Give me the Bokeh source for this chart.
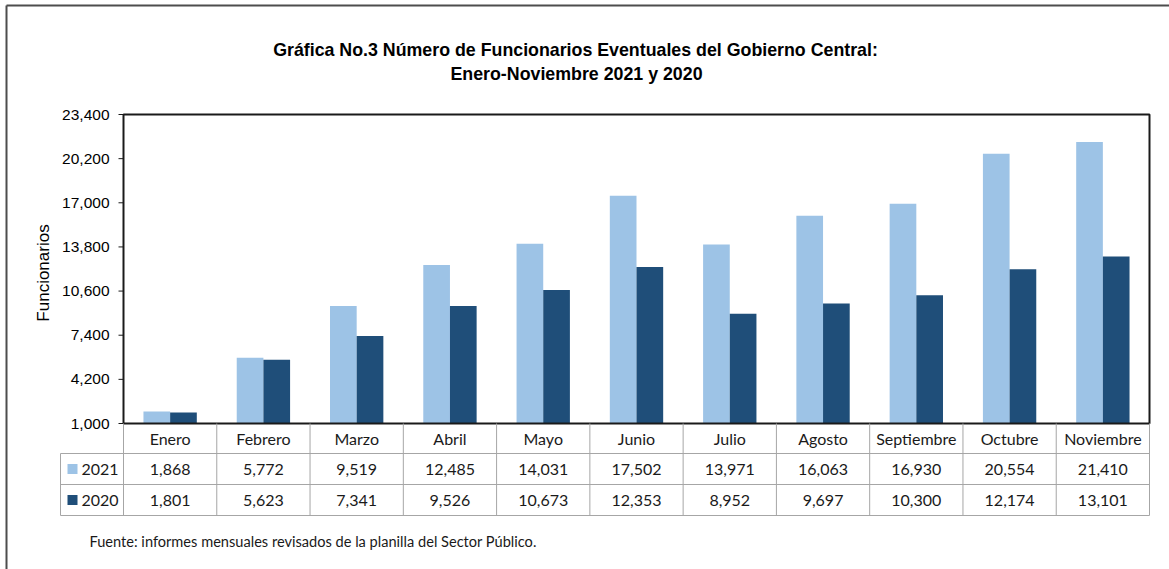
import math
from bokeh.plotting import figure
from bokeh.models import Range1d, ColumnDataSource
from bokeh.transform import dodge
from bokeh.core.properties import value
from bokeh.embed import file_html
from bokeh.resources import INLINE

# ---------------- data ----------------
months = ["Enero", "Febrero", "Marzo", "Abril", "Mayo", "Junio", "Julio",
          "Agosto", "Septiembre", "Octubre", "Noviembre"]
v2021 = [1868, 5772, 9519, 12485, 14031, 17502, 13971, 16063, 16930, 20554, 21410]
v2020 = [1801, 5623, 7341, 9526, 10673, 12353, 8952, 9697, 10300, 12174, 13101]
series_names = ["2021", "2020"]
y_ticks = [1000, 4200, 7400, 10600, 13800, 17000, 20200, 23400]
title_lines = ["Gráfica No.3 Número de Funcionarios Eventuales del Gobierno Central:",
               "Enero-Noviembre 2021 y 2020"]
y_label = "Funcionarios"
source_note = "Fuente: informes mensuales revisados de la planilla del Sector Público."

# ---------------- style / layout (page pixels) ----------------
C_LIGHT = "#9DC3E6"
C_DARK = "#1F4E79"
C_GRID = "#A6A6A6"
C_TXT = "#1a1a1a"
W, H = 1169, 569
FRAME_L, FRAME_R, FRAME_T, FRAME_B = 123, 1149, 114, 423
Y0, Y1 = y_ticks[0], y_ticks[-1]
N = len(months)
U = (FRAME_R - FRAME_L) / N


def xcat(px):
    return (px - FRAME_L) / U


def yv(py):
    return Y0 + (FRAME_B - py) / (FRAME_B - FRAME_T) * (Y1 - Y0)


p = figure(width=W, height=H, x_range=Range1d(xcat(0), xcat(W)),
           y_range=Range1d(yv(H), yv(0)), output_backend="svg", toolbar_location=None,
           x_axis_location=None, y_axis_location=None,
           min_border_left=0, min_border_right=0, min_border_top=0, min_border_bottom=0)
p.extra_y_ranges = {"px": Range1d(H, 0)}
p.extra_x_ranges = {"px": Range1d(0, W)}
p.grid.visible = False
p.outline_line_color = None
p.background_fill_color = "white"
p.border_fill_color = "white"

xc = [i + 0.5 for i in range(N)]
src = ColumnDataSource(dict(month=months, xc=xc, v2021=v2021, v2020=v2020))

# ---------------- bars ----------------
bw = 0.286
p.vbar(x=dodge("xc", -bw / 2), top="v2021", bottom=Y0, width=bw,
       fill_color=C_LIGHT, line_color=None, source=src)
p.vbar(x=dodge("xc", bw / 2), top="v2020", bottom=Y0, width=bw,
       fill_color=C_DARK, line_color=None, source=src)

# plot frame
p.quad(left=[0], right=[N], bottom=[Y0], top=[Y1], fill_color=None,
       line_color=C_TXT, line_width=2)

# y axis ticks + labels (through the value scale)
tick_x0 = xcat(FRAME_L - 5)
p.segment(x0=[tick_x0] * len(y_ticks), y0=y_ticks, x1=[0] * len(y_ticks), y1=y_ticks,
          line_color=C_TXT, line_width=1)
p.text(x=[xcat(FRAME_L - 14)] * len(y_ticks), y=y_ticks, text=[f"{t:,}" for t in y_ticks],
       text_align="right", text_baseline="middle", text_font=value("Liberation Sans"),
       text_font_size="15.5px", text_color="#000000")
p.text(x=[43], y=[(FRAME_T + FRAME_B) / 2 + 4], text=[y_label], angle=math.pi / 2,
       text_align="center", text_baseline="middle", text_font=value("Liberation Sans"),
       text_font_size="17px", text_color="#000000",
       x_range_name="px", y_range_name="px")

# ---------------- title ----------------
p.text(x=[575, 576], y=[49, 73], text=title_lines, text_align="center",
       text_baseline="middle", text_font=value("Liberation Sans"), text_font_style="bold",
       text_font_size="17.8px", text_color="#000000", x_range_name="px", y_range_name="px")

# ---------------- data table ----------------
row_lines = [453, 484, 515]
leg_x = xcat(60)
p.segment(x0=[leg_x] * 3, y0=row_lines, x1=[N] * 3, y1=row_lines,
          line_color=C_GRID, line_width=1, y_range_name="px")
p.segment(x0=list(range(N + 1)), y0=[FRAME_B] * (N + 1), x1=list(range(N + 1)),
          y1=[row_lines[-1]] * (N + 1), line_color=C_GRID, line_width=1, y_range_name="px")
p.segment(x0=[leg_x], y0=[row_lines[0]], x1=[leg_x], y1=[row_lines[-1]],
          line_color=C_GRID, line_width=1, y_range_name="px")

hdr_y = (FRAME_B + row_lines[0]) / 2
r1_y = (row_lines[0] + row_lines[1]) / 2
r2_y = (row_lines[1] + row_lines[2]) / 2
tfont = value("Lato")
p.text(x=xc, y=[hdr_y] * N, text=months, text_align="center", text_baseline="middle",
       text_font=tfont, text_font_size="16px", text_color=C_TXT, y_range_name="px")
p.text(x=xc, y=[r1_y] * N, text=[f"{v:,}" for v in v2021], text_align="center",
       text_baseline="middle", text_font=tfont, text_font_size="16px", text_color=C_TXT,
       y_range_name="px")
p.text(x=xc, y=[r2_y] * N, text=[f"{v:,}" for v in v2020], text_align="center",
       text_baseline="middle", text_font=tfont, text_font_size="16px", text_color=C_TXT,
       y_range_name="px")

# legend keys
p.scatter(x=[72, 72], y=[r1_y, r2_y], marker="square", size=10,
          fill_color=[C_LIGHT, C_DARK], line_color=None,
          x_range_name="px", y_range_name="px")
p.text(x=[81, 81], y=[r1_y, r2_y], text=series_names, text_align="left",
       text_baseline="middle", text_font=tfont, text_font_size="16px", text_color=C_TXT,
       x_range_name="px", y_range_name="px")

# source note
p.text(x=[89], y=[541], text=[source_note], text_align="left", text_baseline="middle",
       text_font=tfont, text_font_size="14.6px", text_color=C_TXT,
       x_range_name="px", y_range_name="px")

# page border (top and left)
p.segment(x0=[6, 6], y0=[5, 5], x1=[W, 6], y1=[5, H], line_color="#4d4d4d",
          line_width=2, x_range_name="px", y_range_name="px")

with open("out.html", "w") as f:
    f.write(file_html(p, INLINE))
